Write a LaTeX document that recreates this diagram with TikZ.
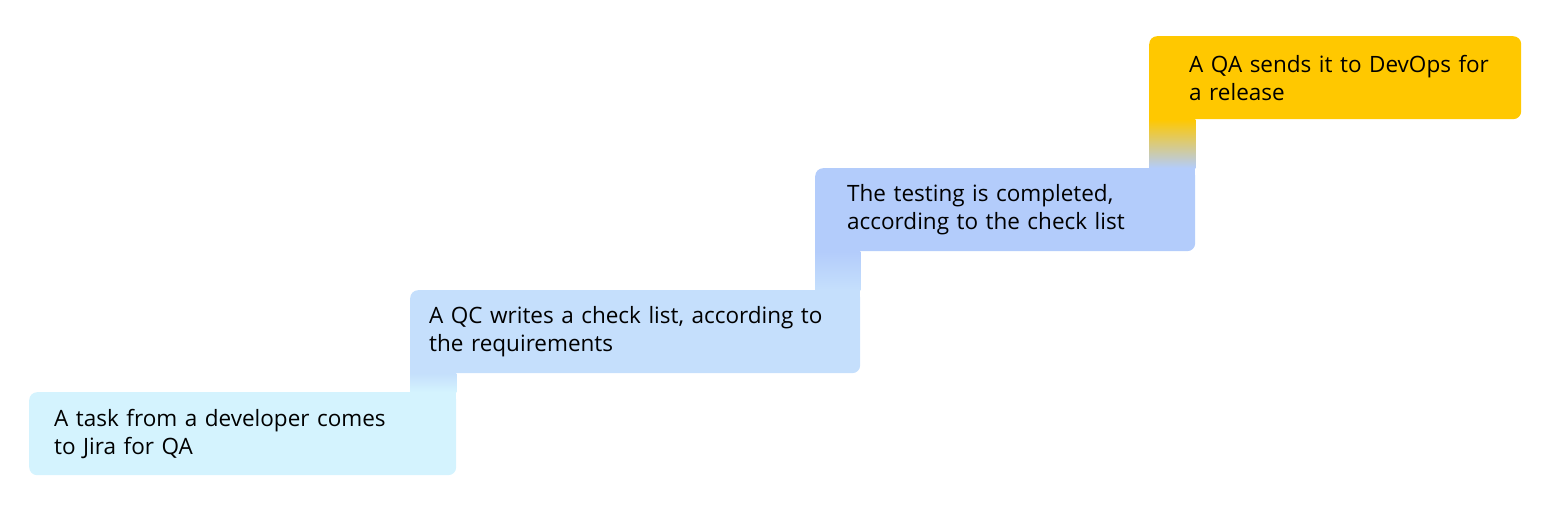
\documentclass[tikz,border=0pt]{standalone}
\usepackage{fontspec}
\setmainfont{Open Sans}
\usetikzlibrary{positioning}
\definecolor{taskblue}{HTML}{D4F3FE}
\definecolor{qcblue}{HTML}{C5DFFC}
\definecolor{testblue}{HTML}{B3CCFB}
\definecolor{qayellow}{HTML}{FFC800}
\begin{document}
\begin{tikzpicture}[x=1pt,y=-1pt,
    stepbox/.style={rectangle, rounded corners=8pt, minimum height=83pt,
      inner ysep=0pt, align=left, anchor=north west, text=black,
      font=\fontsize{22.5}{28}\selectfont}]
		\useasboundingbox (0,0) rectangle (1567,519);

		% Koordinaten
		\coordinate (p1) at (29,392);
		\coordinate (p2) at (410,290);
		\coordinate (p3) at (815,168);
		\coordinate (p4) at (1149,36);

		% Stufen
		\node[stepbox, fill=taskblue, inner xsep=25pt, text width=377pt] (task) at (p1)
			{A task from a developer comes\\to Jira for QA};
		\node[stepbox, fill=qcblue, inner xsep=19pt, text width=412pt] (qc) at (p2)
			{A QC writes a check list, according to\\the requirements};
		\node[stepbox, fill=testblue, inner xsep=32pt, text width=316pt] (test) at (p3)
			{The testing is completed,\\according to the check list};
		\node[stepbox, fill=qayellow, inner xsep=40pt, text width=292pt] (release) at (p4)
			{\mbox{A QA sends it to DevOps for}\\a release};

		% Ecken
		\fill[qcblue] (qc.south west) rectangle ++(10,-10);
		\fill[taskblue] (task.north east) rectangle ++(-10,10);
		\fill[testblue] (test.south west) rectangle ++(10,-10);
		\fill[qcblue] (qc.north east) rectangle ++(-10,10);
		\fill[qayellow] (release.south west) rectangle ++(10,-10);
		\fill[testblue] (test.north east) rectangle ++(-10,10);

		% Übergänge
		\shade[top color=qcblue, bottom color=taskblue] (qc.south west) rectangle (task.north east);
		\shade[top color=testblue, bottom color=qcblue] (test.south west) rectangle (qc.north east);
		\shade[top color=qayellow, bottom color=testblue] (release.south west) rectangle (test.north east);
	\end{tikzpicture}
\end{document}
